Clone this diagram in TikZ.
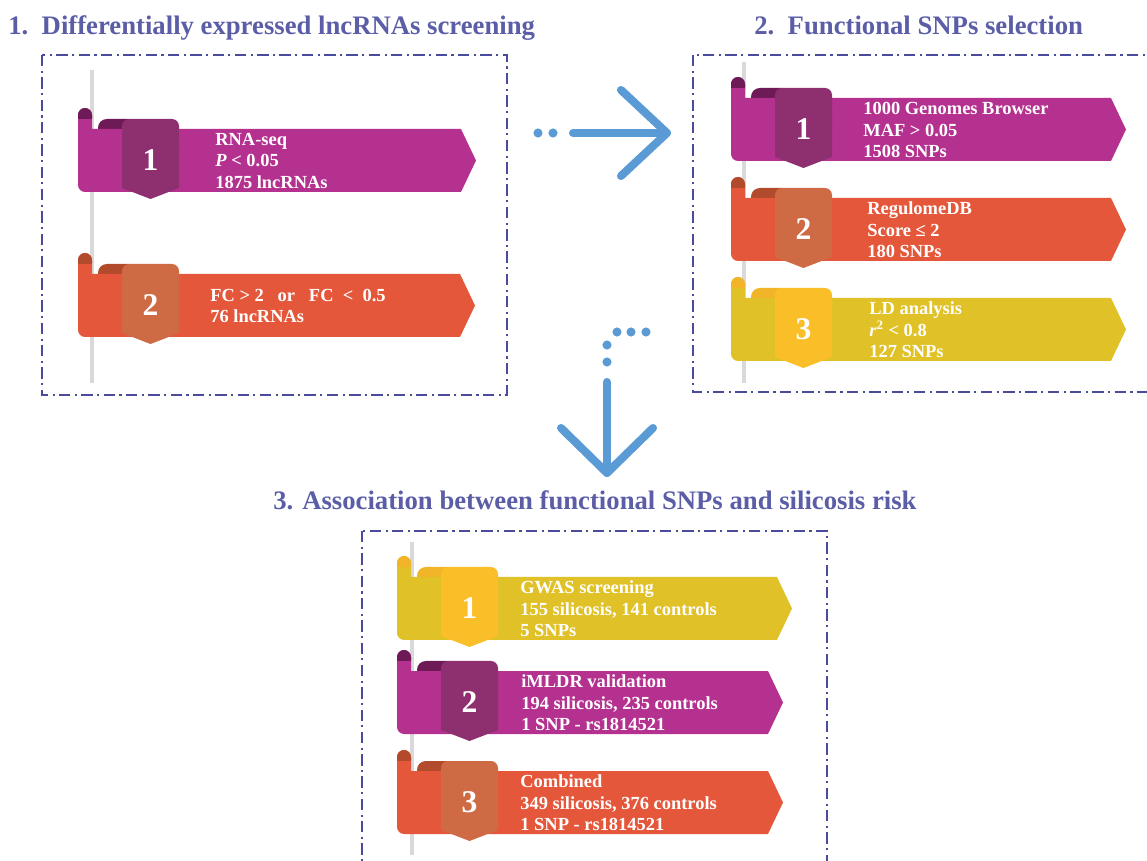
\documentclass[tikz,border=0pt]{standalone}
\usepackage{fontspec}
\setmainfont{Liberation Serif}

\definecolor{titleblue}{HTML}{5B5EA6}
\definecolor{frameblue}{HTML}{4B4B9B}
\definecolor{arrowblue}{HTML}{5B9BD5}
\definecolor{magA}{HTML}{B5318F}
\definecolor{magB}{HTML}{8E2F6F}
\definecolor{magC}{HTML}{6E1A56}
\definecolor{ornA}{HTML}{E5573A}
\definecolor{ornB}{HTML}{CE6B44}
\definecolor{ornC}{HTML}{B24A2C}
\definecolor{ylwA}{HTML}{E0C228}
\definecolor{ylwB}{HTML}{F9BE28}
\definecolor{ylwC}{HTML}{F2B428}

\tikzset{
	px/.style={x=0.02cm, y=-0.02cm},
	frame/.style={draw=frameblue, line width=1.1pt, dash pattern=on 6.5pt off 2.5pt on 1.2pt off 2.5pt},
	heading/.style={text=titleblue, font=\fontsize{15.2}{17}\selectfont\bfseries, anchor=base west, inner sep=0pt},
	num/.style={text=white, font=\fontsize{18}{18}\selectfont\bfseries, inner sep=0pt},
	ribtext/.style={text=white, font=\fontsize{10.5}{12.2}\selectfont\bfseries, align=left, anchor=west, inner sep=0pt},
	pole/.style={draw=gray!30, line width=2.2pt},
	bluearrow/.style={draw=arrowblue, line width=4.6pt, line cap=round, line join=round},
	dot/.style={fill=arrowblue},
}

% #1 name, #2 left x, #3 band top y, #4 straight length, #5 palette,
% #6 number, #7 text x, #8 text
\newcommand{\drawribbon}[8]{%
	\begin{scope}[shift={(#2,#3)}]
		\fill[#5A, rounded corners=4pt] (0,-21) rectangle (14,63);
		\fill[#5C, rounded corners=4pt] (0,-21) rectangle (14,-4);
		\fill[#5A] (0,-10) rectangle (14,0);
		\fill[#5C, rounded corners=5pt] (20,-10) rectangle (60,10);
		\fill[#5A] (7,0) -- (#4,0) -- ({#4+15},31.5) -- (#4,63) -- (7,63) -- cycle;
		\fill[#5B, rounded corners=4pt] (44,-10) rectangle (101,30);
		\fill[#5B] (44,20) -- (101,20) -- (101,59) -- (72.5,70) -- (44,59) -- cycle;
		\node[num] (#1n) at (72.5,31) {#6};
	\end{scope}
	\node[ribtext] (#1t) at (#7,{#3+32}) {#8};
}

\begin{document}
\begin{tikzpicture}[px]
	\useasboundingbox (0,0) rectangle (1147,861);

	% titoli
	\node[heading] (tit1) at (8,35) {1.\ \ Differentially expressed lncRNAs screening};
	\node[heading] (tit2) at (754,35) {2.\ \ Functional SNPs selection};
	\node[heading] (tit3) at (273,510) {3. Association between functional SNPs and silicosis risk};

	% cornici
	\draw[frame] (42,55) rectangle (507,395);
	\draw[frame] (693,55) rectangle (1170,392);
	\draw[frame] (362,531) rectangle (827,890);

	% aste
	\draw[pole] (92,70) -- (92,383);
	\draw[pole] (744,62) -- (744,383);
	\draw[pole] (412,542) -- (412,855);

	% pannello 1
	\drawribbon{ra}{78}{129}{383}{mag}{1}{215}{RNA-seq\\\textit{P} < 0.05\\1875 lncRNAs}
	\drawribbon{rb}{78}{274}{382}{orn}{2}{210}{FC > 2\ \ \ or\ \ \ FC\ \ <\ \ 0.5\\76 lncRNAs}

	% pannello 2
	\drawribbon{sa}{731}{98}{380}{mag}{1}{863}{1000 Genomes Browser\\MAF > 0.05\\1508 SNPs}
	\drawribbon{sb}{731}{198}{380}{orn}{2}{867}{RegulomeDB\\Score ≤ 2\\180 SNPs}
	\drawribbon{sc}{731}{298}{380}{ylw}{3}{869}{LD analysis\\\textit{r}\textsuperscript{2} < 0.8\\127 SNPs}

	% pannello 3
	\drawribbon{ta}{397}{577}{380}{ylw}{1}{520}{GWAS screening\\155 silicosis, 141 controls\\5 SNPs}
	\drawribbon{tb}{397}{671}{371}{mag}{2}{521}{iMLDR validation\\194 silicosis, 235 controls\\1 SNP - rs1814521}
	\drawribbon{tc}{397}{771}{371}{orn}{3}{520}{Combined\\349 silicosis, 376 controls\\1 SNP - rs1814521}

	% freccia 1 -> 2
	\coordinate (ra1) at (573,133);
	\coordinate (ra2) at (667,133);
	\coordinate (ra3) at (621,90);
	\coordinate (ra4) at (621,176);
	\fill[dot] (538,133) circle[radius=2.6pt];
	\fill[dot] (553,133) circle[radius=2.6pt];
	\draw[bluearrow] (ra1) -- (ra2);
	\draw[bluearrow] (ra3) -- (ra2) -- (ra4);

	% freccia 2 -> 3
	\coordinate (da1) at (607,382);
	\coordinate (da2) at (607,473);
	\coordinate (da3) at (561,428);
	\coordinate (da4) at (653,428);
	\foreach \x in {617,631,646} \fill[dot] (\x,332) circle[radius=2.6pt];
	\foreach \y in {345,362} \fill[dot] (607,\y) circle[radius=2.6pt];
	\draw[bluearrow] (da1) -- (da2);
	\draw[bluearrow] (da3) -- (da2) -- (da4);

\end{tikzpicture}
\end{document}
